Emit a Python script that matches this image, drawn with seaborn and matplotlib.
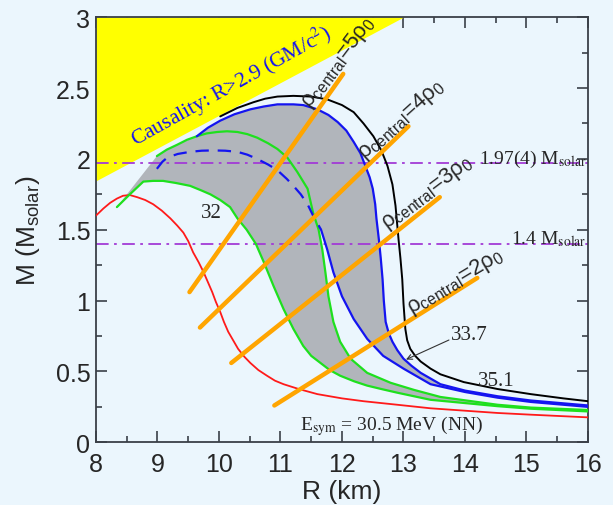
import numpy as np
import pandas as pd
import matplotlib
matplotlib.use("Agg")
import matplotlib.pyplot as plt
import seaborn as sns

# ---------------- data ----------------
red_R = [8.0, 8.12, 8.23, 8.34, 8.44, 8.55, 8.67, 8.8, 8.93, 9.07, 9.21, 9.32, 9.42, 9.5,
         9.58, 9.67, 9.75, 9.82, 9.89, 9.95, 10.02, 10.08, 10.15, 10.23, 10.31, 10.41,
         10.51, 10.64, 10.78, 10.91, 11.05, 11.29, 11.6, 12.0, 12.35, 12.9, 13.44, 14.53,
         15.07, 16.0]
red_M = [1.60, 1.65, 1.69, 1.72, 1.74, 1.745, 1.73, 1.71, 1.68, 1.635, 1.58, 1.53, 1.48,
         1.42, 1.34, 1.27, 1.20, 1.13, 1.06, 0.99, 0.92, 0.85, 0.78, 0.72, 0.66, 0.605,
         0.56, 0.51, 0.47, 0.435, 0.41, 0.377, 0.34, 0.31, 0.29, 0.265, 0.24, 0.207,
         0.195, 0.176]

green32_R = [8.34, 8.55, 8.77, 8.93, 9.09, 9.3, 9.53, 9.7, 9.86, 10.02, 10.18, 10.30, 10.45,
             10.60, 10.73, 10.89, 11.05, 11.21, 11.37, 11.5, 11.65, 11.8, 11.97, 12.2,
             12.41, 12.65, 12.9, 13.44, 14.53, 15.07, 16.0]
green32_M = [1.66, 1.75, 1.84, 1.845, 1.845, 1.83, 1.81, 1.78, 1.75, 1.71, 1.66, 1.58, 1.50,
             1.40, 1.27, 1.10, 0.94, 0.80, 0.68, 0.61, 0.56, 0.51, 0.47, 0.43,
             0.40, 0.375, 0.35, 0.30, 0.255, 0.237, 0.218]

green2_R = [8.99, 9.15, 9.32, 9.48, 9.64, 9.8, 9.97, 10.13, 10.3, 10.46, 10.62, 10.8, 10.95,
            11.11, 11.27, 11.44, 11.53, 11.62, 11.68, 11.73, 11.78, 11.86, 11.97, 12.14,
            12.41, 12.79, 13.17, 13.6, 14.53, 15.07, 16.0]
green2_M = [2.02, 2.065, 2.10, 2.135, 2.16, 2.18, 2.19, 2.195, 2.19, 2.175, 2.15, 2.11, 2.07,
            2.01, 1.91, 1.79, 1.62, 1.50, 1.36, 1.20, 1.03, 0.85, 0.71, 0.59,
            0.49, 0.42, 0.37, 0.32, 0.265, 0.245, 0.228]

blue_dash_R = [8.99, 9.08, 9.16, 9.33, 9.53, 9.72, 9.91, 10.1, 10.3, 10.46, 10.62, 10.8,
               10.95, 11.1, 11.21, 11.33, 11.44, 11.53, 11.66]
blue_dash_M = [1.93, 1.98, 2.01, 2.035, 2.05, 2.058, 2.06, 2.058, 2.05, 2.03, 2.00, 1.96,
               1.92, 1.86, 1.81, 1.75, 1.68, 1.60, 1.50]

blue_in_R = [11.66, 11.76, 11.86, 12.0, 12.19, 12.41, 12.67, 13.0, 13.44, 14.0, 14.53,
             15.07, 16.0]
blue_in_M = [1.50, 1.36, 1.20, 1.03, 0.87, 0.73, 0.61, 0.52, 0.41, 0.355, 0.315,
             0.285, 0.25]

blue_out_R = [9.64, 9.82, 10.02, 10.25, 10.51, 10.73, 10.95, 11.21, 11.37, 11.6, 11.78,
              11.93, 12.07, 12.19, 12.3, 12.38, 12.45, 12.5, 12.54, 12.56, 12.6, 12.63,
              12.66, 12.68, 12.71, 12.76, 12.82, 12.9, 13.0, 13.13, 13.28, 13.6, 14.0,
              14.53, 15.07, 16.0]
blue_out_M = [2.16, 2.22, 2.27, 2.315, 2.35, 2.37, 2.385, 2.385, 2.38, 2.35, 2.31,
              2.26, 2.2, 2.12, 2.04, 1.95, 1.87, 1.79, 1.68, 1.58, 1.43, 1.30,
              1.15, 1.0, 0.85, 0.77, 0.71, 0.65, 0.59, 0.54, 0.49, 0.41, 0.365,
              0.325, 0.295, 0.26]

black_R = [10.02, 10.3, 10.56, 10.75, 10.95, 11.21, 11.5, 11.76, 12.0, 12.19, 12.35, 12.51,
           12.64, 12.74, 12.82, 12.87, 12.92, 12.95, 12.98, 13.0, 13.03, 13.06, 13.11,
           13.19, 13.28, 13.44, 13.6, 13.98, 14.53, 15.07, 15.6, 16.0]
black_M = [2.30, 2.36, 2.40, 2.425, 2.44, 2.445, 2.44, 2.42, 2.38, 2.33, 2.25, 2.16,
           2.06, 1.95, 1.82, 1.67, 1.43, 1.30, 1.15, 0.98, 0.80, 0.72, 0.66,
           0.61, 0.57, 0.52, 0.48, 0.425, 0.376, 0.34, 0.31, 0.29]

# causality boundary
caus_R = [8.0, 13.02]
caus_M = [1.84, 3.0]

# central-density lines (start R, end R, start M, end M)
rho_labels = ["5", "4", "3", "2"]
rho_R0 = [9.52, 9.69, 10.2, 10.9]
rho_R1 = [12.02, 13.08, 13.59, 14.2]
rho_M0 = [1.06, 0.81, 0.56, 0.26]
rho_M1 = [2.60, 2.23, 1.73, 1.16]

obs_M = [1.97, 1.4]
obs_text = ["1.97(4) M$_{\\mathrm{solar}}$", "1.4 M$_{\\mathrm{solar}}$"]

x_ticks = [8, 9, 10, 11, 12, 13, 14, 15, 16]
y_ticks = [0, 0.5, 1, 1.5, 2, 2.5, 3]
y_ticklabels = ["0", "0.5", "1", "1.5", "2", "2.5", "3"]

# ---------------- style ----------------
sns.set_style("ticks")
bg = "#EBF6FD"
plt.rcParams["font.family"] = ["Liberation Sans", "DejaVu Sans"]
plt.rcParams["mathtext.fontset"] = "custom"
plt.rcParams["mathtext.rm"] = "Liberation Sans"
plt.rcParams["mathtext.it"] = "Liberation Sans:italic"
plt.rcParams["mathtext.bf"] = "Liberation Sans:bold"

fig = plt.figure(figsize=(6.13, 5.06), dpi=100, facecolor=bg)
ax = fig.add_axes([0.1566, 0.1239, 0.8026, 0.8401])
ax.set_facecolor(bg)

# causality region
ax.fill([caus_R[0], caus_R[1], caus_R[0]], [caus_M[0], caus_M[1], caus_M[1]],
        color="#FFFF00", lw=0, zorder=1)

# gray band: lower green -> outer blue (reversed) -> upper green start
poly_R = green32_R + blue_out_R[::-1] + [green2_R[2], green2_R[1], green2_R[0]]
poly_M = green32_M + blue_out_M[::-1] + [green2_M[2], green2_M[1], green2_M[0]]
ax.fill(poly_R, poly_M, facecolor="#B1B5BB", edgecolor="none", zorder=1.5)
# white gap between upper green and inner blue
i0 = green2_R.index(11.62)
gap_R = green2_R[i0:] + blue_in_R[::-1]
gap_M = green2_M[i0:] + blue_in_M[::-1]
ax.fill(gap_R, gap_M, facecolor=bg, edgecolor="none", zorder=1.6)

# observational lines
for m in obs_M:
    ax.axhline(m, color="#A23BD6", lw=1.3, ls=(0, (7, 3, 1.5, 3)), zorder=2)

curves = [
    (red_R, red_M, "#FF1A1A", 1.3),
    (green32_R, green32_M, "#1EE01E", 1.6),
    (green2_R, green2_M, "#1EE01E", 1.6),
    (blue_in_R, blue_in_M, "#1414F0", 1.6),
    (blue_out_R, blue_out_M, "#1414F0", 1.6),
    (black_R, black_M, "black", 1.4),
]
for r, m, c, w in curves:
    sns.lineplot(x=r, y=m, sort=False, color=c, lw=w, ax=ax, zorder=3,
                 estimator=None)
sns.lineplot(x=blue_dash_R, y=blue_dash_M, sort=False, color="#1414F0", lw=1.6,
             ax=ax, zorder=3, estimator=None)
ax.lines[-1].set_dashes((6, 4))

# central density lines
for lab, r0, r1, m0, m1 in zip(rho_labels, rho_R0, rho_R1, rho_M0, rho_M1):
    sns.lineplot(x=[r0, r1], y=[m0, m1], color="#FFA500", lw=3.2, ax=ax,
                 zorder=4, estimator=None)

# ---------------- axes ----------------
ax.set_xlim(8, 16)
ax.set_ylim(0, 3)
ax.set_xticks(x_ticks)
ax.set_yticks(y_ticks)
ax.set_yticklabels(y_ticklabels)
ax.set_xticks(np.arange(8.5, 16, 1.0), minor=True)
ax.set_yticks(np.arange(0.25, 3, 0.5), minor=True)
ax.tick_params(which="both", direction="in", top=True, right=True,
               color="#3a4048", width=1.2, labelsize=18)
ax.tick_params(which="major", length=8, pad=7)
ax.tick_params(axis="y", which="major", pad=4)
ax.tick_params(which="minor", length=4.5)
for s in ax.spines.values():
    s.set_color("#3a4048")
    s.set_linewidth(1.3)
ax.set_xlabel("R (km)", fontsize=19, labelpad=2)
ax.set_ylabel("M (M$_{\\mathrm{solar}}$)", fontsize=19, labelpad=10)

# ---------------- texts ----------------
serif = ["Liberation Serif", "DejaVu Serif"]
ax.text(10.2, 2.52, "Causality: R>2.9 (GM/c$^{2}$)", family=serif,
        math_fontfamily="stix", color="#1414F0", fontsize=15.5, rotation=29,
        rotation_mode="anchor", ha="center", va="center", zorder=5)

rho_pos = [(11.94, 2.69, 53), (12.97, 2.28, 42), (13.39, 1.77, 37), (13.85, 1.14, 31)]
for lab, (x, y, rot) in zip(rho_labels, rho_pos):
    ax.text(x, y, "ρ$_{\\mathrm{central}}$=" + lab + "ρ$_{\\mathrm{0}}$",
            fontsize=16, rotation=rot, rotation_mode="anchor",
            ha="center", va="center", zorder=5)

ax.text(15.98, 1.975, obs_text[0], family=serif, math_fontfamily="stix",
        fontsize=14, ha="right", va="baseline", zorder=5)
ax.text(15.98, 1.405, obs_text[1], family=serif, math_fontfamily="stix",
        fontsize=14, ha="right", va="baseline", zorder=5)

ax.text(9.87, 1.62, "32", family=serif, fontsize=15, ha="center", va="center", zorder=5)
ax.text(14.07, 0.76, "33.7", family=serif, fontsize=15, ha="center", va="center", zorder=5)
ax.annotate("", xy=(13.0, 0.576), xytext=(13.78, 0.73),
            arrowprops=dict(arrowstyle="->", color="#333333", lw=0.8,
                            mutation_scale=9), zorder=5)
ax.text(14.51, 0.435, "35.1", family=serif, fontsize=15, ha="center", va="center", zorder=5)
ax.text(11.32, 0.095, "E$_{\\mathrm{sym}}$ = 30.5 MeV (NN)", family=serif,
        math_fontfamily="stix", fontsize=14, ha="left", va="baseline", zorder=5)

fig.savefig("out.png", dpi=100, facecolor=bg)
